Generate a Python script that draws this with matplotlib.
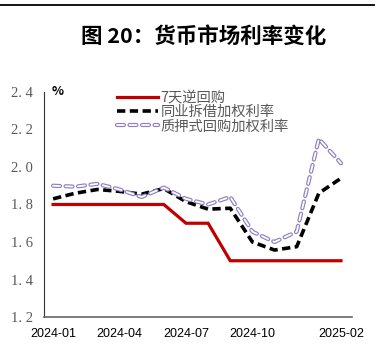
import matplotlib.pyplot as plt
from matplotlib.lines import Line2D

plt.rcParams['font.family'] = ['Noto Sans CJK SC', 'DejaVu Sans']
plt.rcParams['lines.scale_dashes'] = False

months = ['2024-01', '2024-02', '2024-03', '2024-04', '2024-05', '2024-06', '2024-07',
          '2024-08', '2024-09', '2024-10', '2024-11', '2024-12', '2025-01', '2025-02']
reverse_repo = [1.8, 1.8, 1.8, 1.8, 1.8, 1.8, 1.7, 1.7, 1.5, 1.5, 1.5, 1.5, 1.5, 1.5]
interbank = [1.83, 1.86, 1.88, 1.87, 1.855, 1.885, 1.815, 1.775, 1.78, 1.60, 1.557, 1.575, 1.86, 1.94]
pledged_repo = [1.90, 1.895, 1.91, 1.88, 1.84, 1.89, 1.83, 1.80, 1.84, 1.655, 1.60, 1.655, 2.15, 2.02]
tick_idx = [0, 3, 6, 9, 13]
names = ['7天逆回购', '同业拆借加权利率', '质押式回购加权利率']

red = '#c00000'
purple = '#8f7fc0'
gray = '#595959'

fig = plt.figure(figsize=(3.78, 3.55), dpi=100)
fig.add_artist(Line2D([0, 0.99], [0.986, 0.986], color='black', lw=1.3))
fig.text(0.54, 0.898, '图 20：货币市场利率变化', ha='center', va='center',
         fontsize=15.5, fontweight='bold')

ax = fig.add_axes([0.1164, 0.107, 0.815, 0.634])
x = list(range(len(months)))

ax.plot(x, reverse_repo, color=red, lw=2.3, solid_joinstyle='miter')
ax.plot(x, interbank, color='black', lw=2.6, dashes=(6, 3.2))
ax.plot(x, pledged_repo, color=purple, lw=3.0, dashes=(5, 4), dash_capstyle='round')
ax.plot(x, pledged_repo, color='white', lw=1.3, dashes=(5, 4), dash_capstyle='round')

ax.set_xlim(-0.41, 13.5)
ax.set_ylim(1.2, 2.4)
ax.set_yticks([1.2, 1.4, 1.6, 1.8, 2.0, 2.2, 2.4])
ax.set_yticklabels([f'{v:.1f}'.replace('.', '. ') for v in ax.get_yticks()],
                   family='Liberation Serif', fontsize=10.5, color=gray)
ax.set_xticks(tick_idx)
ax.set_xticklabels([months[i] for i in tick_idx], family='Liberation Sans', fontsize=9)
ax.tick_params(axis='both', length=0)
ax.tick_params(axis='y', pad=8)
ax.tick_params(axis='x', pad=8)

for s in ['top', 'right']:
    ax.spines[s].set_visible(False)
ax.spines['left'].set_color('#333333')
ax.spines['bottom'].set_color('#666666')
ax.spines['bottom'].set_linewidth(1.2)

ax.text(0.025, 1.0, '%', transform=ax.transAxes, fontsize=9, fontweight='bold',
        va='center', ha='left')

handles = [
    Line2D([], [], color=red, lw=2.3),
    Line2D([], [], color='black', lw=2.6, dashes=(6, 3.2)),
    (Line2D([], [], color=purple, lw=3.0, dashes=(5, 4), dash_capstyle='round'),
     Line2D([], [], color='white', lw=1.3, dashes=(5, 4), dash_capstyle='round')),
]
leg = ax.legend(handles, names, loc='upper left', bbox_to_anchor=(0.22, 1.03),
                frameon=False, fontsize=10.3, handlelength=2.8, handletextpad=0.2,
                labelspacing=0.02, borderaxespad=0)
for t in leg.get_texts():
    t.set_color(gray)

fig.savefig('out.png', dpi=100)
